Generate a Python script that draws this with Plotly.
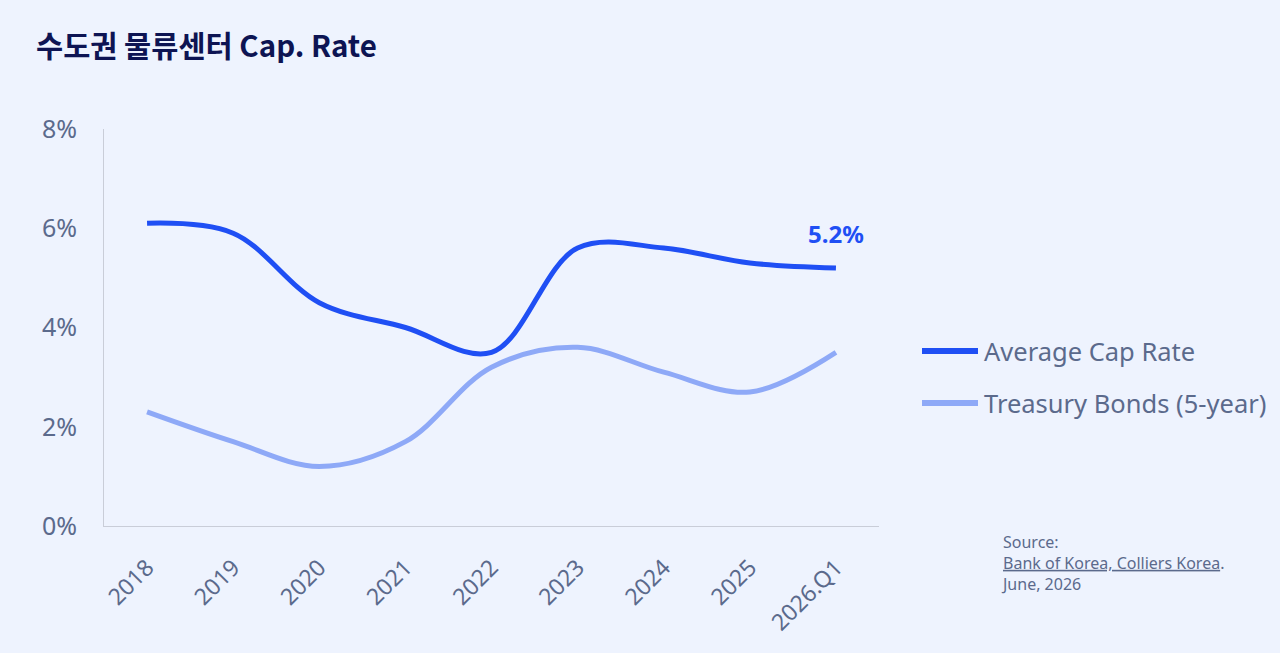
import plotly.graph_objects as go

categories = ["2018", "2019", "2020", "2021", "2022", "2023", "2024", "2025", "2026.Q1"]
cap_rate = [6.1, 5.9, 4.5, 4.0, 3.5, 5.6, 5.6, 5.3, 5.2]
treasury = [2.3, 1.7, 1.2, 1.7, 3.2, 3.6, 3.1, 2.7, 3.5]
series_names = ["Average Cap Rate", "Treasury Bonds (5-year)"]
y_ticks = [0, 2, 4, 6, 8]
y_tick_labels = ["0%", "2%", "4%", "6%", "8%"]

BG = "#EEF3FE"
DARK = "#1F4FF4"
LIGHT = "#8EA9F7"
TXT = "#5B6A8C"
FONT = "Noto Sans"

fig = go.Figure()
fig.add_trace(go.Scatter(x=categories, y=cap_rate, mode="lines", name=series_names[0],
                         line=dict(color=DARK, width=5, shape="spline", smoothing=1.0),
                         showlegend=False))
fig.add_trace(go.Scatter(x=categories, y=treasury, mode="lines", name=series_names[1],
                         line=dict(color=LIGHT, width=5, shape="spline", smoothing=1.0),
                         showlegend=False))

# last value label
fig.add_annotation(x=categories[-1], y=cap_rate[-1], text=f"<b>{cap_rate[-1]:.1f}%</b>",
                   showarrow=False, yshift=34, xshift=0,
                   font=dict(family=FONT, size=24, color=DARK))

# custom legend
for i, (nm, col) in enumerate(zip(series_names, [DARK, LIGHT])):
    yy = 351 + i * 52
    fig.add_shape(type="line", xref="paper", yref="paper",
                  x0=(922 - 104) / 775, x1=(978 - 104) / 775,
                  y0=(526 - yy) / 397, y1=(526 - yy) / 397,
                  line=dict(color=col, width=6))
    fig.add_annotation(xref="paper", yref="paper", x=(982 - 104) / 775, y=(526 - yy) / 397,
                       text=nm, showarrow=False, xanchor="left", yanchor="middle",
                       font=dict(family=FONT, size=25.5, color=TXT))

# source
fig.add_annotation(xref="paper", yref="paper", x=(999 - 104) / 775, y=(526 - 529) / 397,
                   xanchor="left", yanchor="top", align="left", showarrow=False,
                   text="Source:<br><span style=\"text-decoration:underline\">Bank of Korea, Colliers Korea</span>.<br>June, 2026",
                   font=dict(family=FONT, size=16, color=TXT))

fig.update_layout(
    width=1280, height=653,
    paper_bgcolor=BG, plot_bgcolor=BG,
    margin=dict(l=104, r=401, t=129, b=127),
    title=dict(text="<b>수도권 물류센터 Cap. Rate</b>", x=36 / 1280, xanchor="left",
               y=1 - 47 / 653, yanchor="middle",
               font=dict(family="Noto Sans CJK KR", size=29.5, color="#0D1453")),
    xaxis=dict(type="category", range=[-0.5, 8.5], showgrid=False, zeroline=False,
               showline=True, linecolor="#C9CDD8", linewidth=1,
               ticks="outside", ticklen=18, tickcolor="rgba(0,0,0,0)",
               tickangle=-45, tickfont=dict(family=FONT, size=23, color=TXT)),
    yaxis=dict(range=[0, 8], tickvals=y_ticks, ticktext=y_tick_labels, showgrid=False,
               zeroline=False, showline=True, linecolor="#C9CDD8", linewidth=1,
               ticks="outside", ticklen=21, tickcolor="rgba(0,0,0,0)",
               tickfont=dict(family=FONT, size=25, color=TXT)),
)

fig.write_html("out.html")
